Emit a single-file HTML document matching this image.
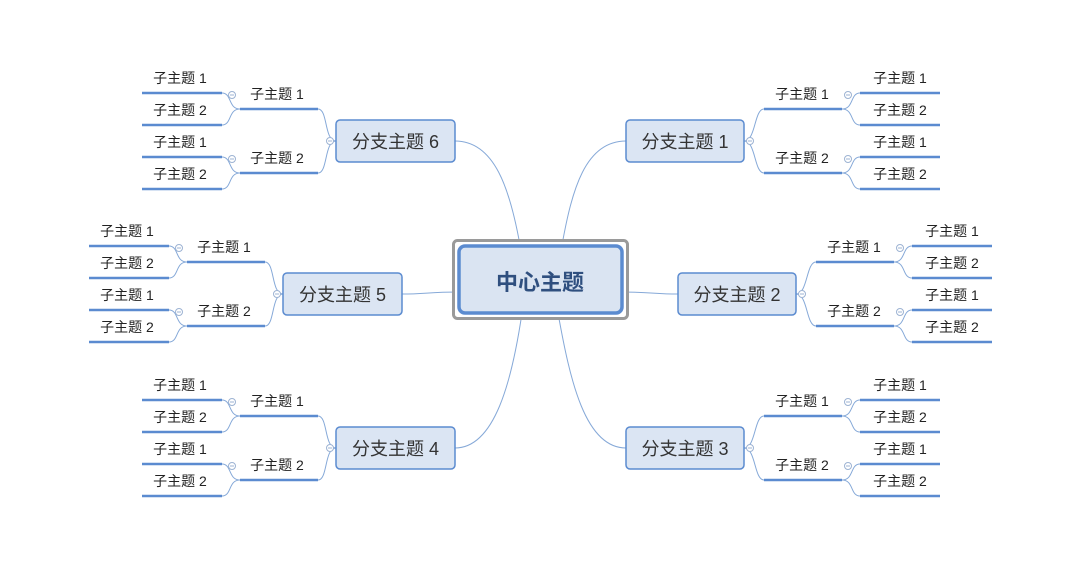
<!DOCTYPE html>
<html><head><meta charset="utf-8"><style>
html,body{margin:0;padding:0;background:#fff;}
svg{display:block;font-family:"Liberation Sans","Noto Sans CJK SC",sans-serif;}
.bx{fill:#dbe5f3;stroke:#5b8bd0;stroke-width:1.5;}
.bt{font-size:18px;fill:#333;text-anchor:middle;}
.st{font-size:14px;fill:#222;text-anchor:middle;}
.ul{stroke:#5b8bd0;stroke-width:2.5;fill:none;}
.cn{stroke:#86a9d8;stroke-width:1;fill:none;}
.ci{fill:#fff;stroke:#9db3d3;stroke-width:1;}
.ci2{stroke:#9db3d3;stroke-width:1;}
</style></head><body>
<svg width="1080" height="575" viewBox="0 0 1080 575" xmlns="http://www.w3.org/2000/svg">
<!-- center connectors -->
<path class="cn" d="M520,245 C510,190 495,141 455,141"/>
<path class="cn" d="M562,245 C572,190 585,141 626,141"/>
<path class="cn" d="M622,292 C650,292 655,294 678,294"/>
<path class="cn" d="M458,292 C430,292 425,294 402,294"/>
<path class="cn" d="M522,313 C512,380 495,448 455,448"/>
<path class="cn" d="M558,313 C570,380 585,448 626,448"/>
<!-- center -->
<rect x="453.5" y="240.5" width="174" height="78" rx="4" fill="#fff" stroke="#9a9a9a" stroke-width="3"/>
<rect x="459" y="246" width="163" height="67" rx="6" fill="#dae4f2" stroke="#5b8bd0" stroke-width="3.5"/>
<text x="540" y="290" font-size="22" font-weight="bold" fill="#2f4f7f" text-anchor="middle">中心主题</text>

<!-- right branches -->
<g transform="translate(626,120)">
<path class="cn" d="M118,21 C130,21 128,-11 138,-11 M118,21 C130,21 128,53 138,53"/>
<path class="cn" d="M216,-11 C228,-11 224,-27 234,-27 M216,-11 C228,-11 224,5 234,5 M216,53 C228,53 224,37 234,37 M216,53 C228,53 224,69 234,69"/>
<rect class="bx" x="0" y="0" width="118" height="42" rx="4"/>
<text class="bt" x="59" y="28">分支主题 1</text>
<circle class="ci" cx="124" cy="21" r="3.5"/><line class="ci2" x1="122" y1="21" x2="126" y2="21"/>
<line class="ul" x1="138" y1="-11" x2="216" y2="-11"/><line class="ul" x1="138" y1="53" x2="216" y2="53"/>
<text class="st" x="176" y="-21">子主题 1</text><text class="st" x="176" y="43">子主题 2</text>
<circle class="ci" cx="222" cy="-25" r="3.5"/><line class="ci2" x1="220" y1="-25" x2="224" y2="-25"/>
<circle class="ci" cx="222" cy="39" r="3.5"/><line class="ci2" x1="220" y1="39" x2="224" y2="39"/>
<line class="ul" x1="234" y1="-27" x2="314" y2="-27"/><line class="ul" x1="234" y1="5" x2="314" y2="5"/>
<line class="ul" x1="234" y1="37" x2="314" y2="37"/><line class="ul" x1="234" y1="69" x2="314" y2="69"/>
<text class="st" x="274" y="-37">子主题 1</text><text class="st" x="274" y="-5">子主题 2</text>
<text class="st" x="274" y="27">子主题 1</text><text class="st" x="274" y="59">子主题 2</text>
</g>
<g transform="translate(678,273)">
<path class="cn" d="M118,21 C130,21 128,-11 138,-11 M118,21 C130,21 128,53 138,53"/>
<path class="cn" d="M216,-11 C228,-11 224,-27 234,-27 M216,-11 C228,-11 224,5 234,5 M216,53 C228,53 224,37 234,37 M216,53 C228,53 224,69 234,69"/>
<rect class="bx" x="0" y="0" width="118" height="42" rx="4"/>
<text class="bt" x="59" y="28">分支主题 2</text>
<circle class="ci" cx="124" cy="21" r="3.5"/><line class="ci2" x1="122" y1="21" x2="126" y2="21"/>
<line class="ul" x1="138" y1="-11" x2="216" y2="-11"/><line class="ul" x1="138" y1="53" x2="216" y2="53"/>
<text class="st" x="176" y="-21">子主题 1</text><text class="st" x="176" y="43">子主题 2</text>
<circle class="ci" cx="222" cy="-25" r="3.5"/><line class="ci2" x1="220" y1="-25" x2="224" y2="-25"/>
<circle class="ci" cx="222" cy="39" r="3.5"/><line class="ci2" x1="220" y1="39" x2="224" y2="39"/>
<line class="ul" x1="234" y1="-27" x2="314" y2="-27"/><line class="ul" x1="234" y1="5" x2="314" y2="5"/>
<line class="ul" x1="234" y1="37" x2="314" y2="37"/><line class="ul" x1="234" y1="69" x2="314" y2="69"/>
<text class="st" x="274" y="-37">子主题 1</text><text class="st" x="274" y="-5">子主题 2</text>
<text class="st" x="274" y="27">子主题 1</text><text class="st" x="274" y="59">子主题 2</text>
</g>
<g transform="translate(626,427)">
<path class="cn" d="M118,21 C130,21 128,-11 138,-11 M118,21 C130,21 128,53 138,53"/>
<path class="cn" d="M216,-11 C228,-11 224,-27 234,-27 M216,-11 C228,-11 224,5 234,5 M216,53 C228,53 224,37 234,37 M216,53 C228,53 224,69 234,69"/>
<rect class="bx" x="0" y="0" width="118" height="42" rx="4"/>
<text class="bt" x="59" y="28">分支主题 3</text>
<circle class="ci" cx="124" cy="21" r="3.5"/><line class="ci2" x1="122" y1="21" x2="126" y2="21"/>
<line class="ul" x1="138" y1="-11" x2="216" y2="-11"/><line class="ul" x1="138" y1="53" x2="216" y2="53"/>
<text class="st" x="176" y="-21">子主题 1</text><text class="st" x="176" y="43">子主题 2</text>
<circle class="ci" cx="222" cy="-25" r="3.5"/><line class="ci2" x1="220" y1="-25" x2="224" y2="-25"/>
<circle class="ci" cx="222" cy="39" r="3.5"/><line class="ci2" x1="220" y1="39" x2="224" y2="39"/>
<line class="ul" x1="234" y1="-27" x2="314" y2="-27"/><line class="ul" x1="234" y1="5" x2="314" y2="5"/>
<line class="ul" x1="234" y1="37" x2="314" y2="37"/><line class="ul" x1="234" y1="69" x2="314" y2="69"/>
<text class="st" x="274" y="-37">子主题 1</text><text class="st" x="274" y="-5">子主题 2</text>
<text class="st" x="274" y="27">子主题 1</text><text class="st" x="274" y="59">子主题 2</text>
</g>

<!-- left branches -->
<g transform="translate(336,120)">
<path class="cn" d="M0,21 C-12,21 -8,-11 -18,-11 M0,21 C-12,21 -8,53 -18,53"/>
<path class="cn" d="M-96,-11 C-108,-11 -104,-27 -114,-27 M-96,-11 C-108,-11 -104,5 -114,5 M-96,53 C-108,53 -104,37 -114,37 M-96,53 C-108,53 -104,69 -114,69"/>
<rect class="bx" x="0" y="0" width="119" height="42" rx="4"/>
<text class="bt" x="59.5" y="28">分支主题 6</text>
<circle class="ci" cx="-6" cy="21" r="3.5"/><line class="ci2" x1="-8" y1="21" x2="-4" y2="21"/>
<line class="ul" x1="-96" y1="-11" x2="-18" y2="-11"/><line class="ul" x1="-96" y1="53" x2="-18" y2="53"/>
<text class="st" x="-59" y="-21">子主题 1</text><text class="st" x="-59" y="43">子主题 2</text>
<circle class="ci" cx="-104" cy="-25" r="3.5"/><line class="ci2" x1="-106" y1="-25" x2="-102" y2="-25"/>
<circle class="ci" cx="-104" cy="39" r="3.5"/><line class="ci2" x1="-106" y1="39" x2="-102" y2="39"/>
<line class="ul" x1="-194" y1="-27" x2="-114" y2="-27"/><line class="ul" x1="-194" y1="5" x2="-114" y2="5"/>
<line class="ul" x1="-194" y1="37" x2="-114" y2="37"/><line class="ul" x1="-194" y1="69" x2="-114" y2="69"/>
<text class="st" x="-156" y="-37">子主题 1</text><text class="st" x="-156" y="-5">子主题 2</text>
<text class="st" x="-156" y="27">子主题 1</text><text class="st" x="-156" y="59">子主题 2</text>
</g>
<g transform="translate(283,273)">
<path class="cn" d="M0,21 C-12,21 -8,-11 -18,-11 M0,21 C-12,21 -8,53 -18,53"/>
<path class="cn" d="M-96,-11 C-108,-11 -104,-27 -114,-27 M-96,-11 C-108,-11 -104,5 -114,5 M-96,53 C-108,53 -104,37 -114,37 M-96,53 C-108,53 -104,69 -114,69"/>
<rect class="bx" x="0" y="0" width="119" height="42" rx="4"/>
<text class="bt" x="59.5" y="28">分支主题 5</text>
<circle class="ci" cx="-6" cy="21" r="3.5"/><line class="ci2" x1="-8" y1="21" x2="-4" y2="21"/>
<line class="ul" x1="-96" y1="-11" x2="-18" y2="-11"/><line class="ul" x1="-96" y1="53" x2="-18" y2="53"/>
<text class="st" x="-59" y="-21">子主题 1</text><text class="st" x="-59" y="43">子主题 2</text>
<circle class="ci" cx="-104" cy="-25" r="3.5"/><line class="ci2" x1="-106" y1="-25" x2="-102" y2="-25"/>
<circle class="ci" cx="-104" cy="39" r="3.5"/><line class="ci2" x1="-106" y1="39" x2="-102" y2="39"/>
<line class="ul" x1="-194" y1="-27" x2="-114" y2="-27"/><line class="ul" x1="-194" y1="5" x2="-114" y2="5"/>
<line class="ul" x1="-194" y1="37" x2="-114" y2="37"/><line class="ul" x1="-194" y1="69" x2="-114" y2="69"/>
<text class="st" x="-156" y="-37">子主题 1</text><text class="st" x="-156" y="-5">子主题 2</text>
<text class="st" x="-156" y="27">子主题 1</text><text class="st" x="-156" y="59">子主题 2</text>
</g>
<g transform="translate(336,427)">
<path class="cn" d="M0,21 C-12,21 -8,-11 -18,-11 M0,21 C-12,21 -8,53 -18,53"/>
<path class="cn" d="M-96,-11 C-108,-11 -104,-27 -114,-27 M-96,-11 C-108,-11 -104,5 -114,5 M-96,53 C-108,53 -104,37 -114,37 M-96,53 C-108,53 -104,69 -114,69"/>
<rect class="bx" x="0" y="0" width="119" height="42" rx="4"/>
<text class="bt" x="59.5" y="28">分支主题 4</text>
<circle class="ci" cx="-6" cy="21" r="3.5"/><line class="ci2" x1="-8" y1="21" x2="-4" y2="21"/>
<line class="ul" x1="-96" y1="-11" x2="-18" y2="-11"/><line class="ul" x1="-96" y1="53" x2="-18" y2="53"/>
<text class="st" x="-59" y="-21">子主题 1</text><text class="st" x="-59" y="43">子主题 2</text>
<circle class="ci" cx="-104" cy="-25" r="3.5"/><line class="ci2" x1="-106" y1="-25" x2="-102" y2="-25"/>
<circle class="ci" cx="-104" cy="39" r="3.5"/><line class="ci2" x1="-106" y1="39" x2="-102" y2="39"/>
<line class="ul" x1="-194" y1="-27" x2="-114" y2="-27"/><line class="ul" x1="-194" y1="5" x2="-114" y2="5"/>
<line class="ul" x1="-194" y1="37" x2="-114" y2="37"/><line class="ul" x1="-194" y1="69" x2="-114" y2="69"/>
<text class="st" x="-156" y="-37">子主题 1</text><text class="st" x="-156" y="-5">子主题 2</text>
<text class="st" x="-156" y="27">子主题 1</text><text class="st" x="-156" y="59">子主题 2</text>
</g>
</svg>
</body></html>
